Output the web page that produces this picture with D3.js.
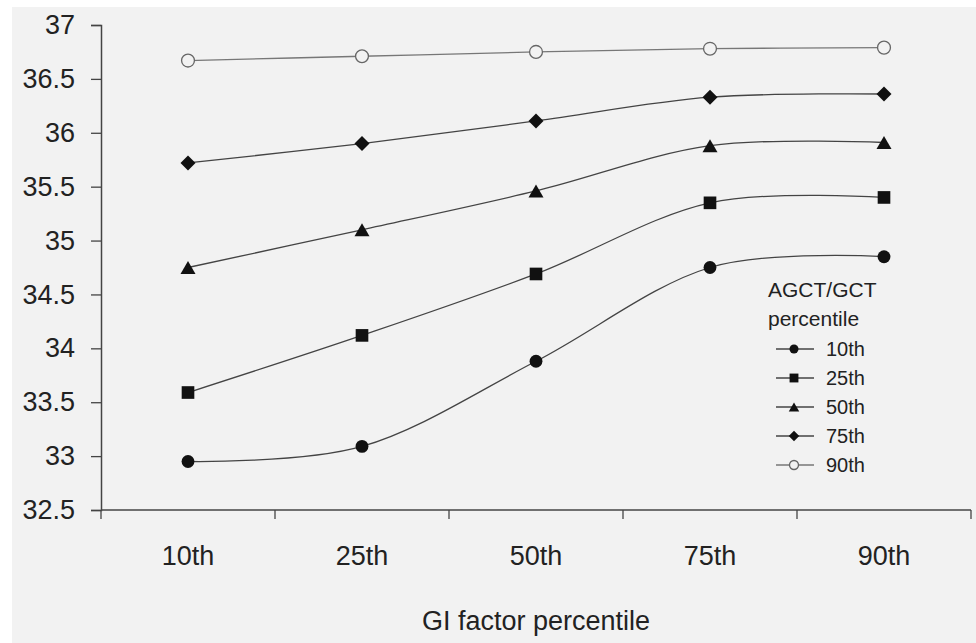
<!DOCTYPE html>
<html>
<head>
<meta charset="utf-8">
<script src="https://cdn.jsdelivr.net/npm/d3@7"></script>
<style>
  body { margin: 0; background: #fff; }
  svg { display: block; font-family: "Liberation Sans", Arial, sans-serif; }
</style>
</head>
<body>
<div id="chart"></div>
<script>
// GI factor percentile categories (x axis)
const categories = ["10th", "25th", "50th", "75th", "90th"];

// AGCT/GCT percentile series
const seriesNames = ["10th", "25th", "50th", "75th", "90th"];
const p10 = [32.95, 33.09, 33.88, 34.75, 34.85];
const p25 = [33.59, 34.12, 34.69, 35.35, 35.40];
const p50 = [34.75, 35.10, 35.46, 35.88, 35.91];
const p75 = [35.72, 35.90, 36.11, 36.33, 36.36];
const p90 = [36.67, 36.71, 36.75, 36.78, 36.79];

const yTicks = [32.5, 33, 33.5, 34, 34.5, 35, 35.5, 36, 36.5, 37];

const width = 976, height = 643;
const plot = { left: 101, right: 971, top: 25, bottom: 510 };

const svg = d3.select("#chart")
    .append("svg")
    .attr("width", width)
    .attr("height", height);

// grey panel
svg.append("rect")
    .attr("x", 12).attr("y", 7)
    .attr("width", width - 12).attr("height", height - 7)
    .attr("fill", "#f2f2f2");

// Scales
const x = d3.scaleBand()
    .domain(categories)
    .range([plot.left, plot.right])
    .padding(0);

const y = d3.scaleLinear()
    .domain([32.5, 37])
    .range([plot.bottom, plot.top]);

// Y axis
const yAxis = svg.append("g")
    .attr("transform", `translate(${plot.left},0)`)
    .call(d3.axisLeft(y).tickValues(yTicks).tickSize(10).tickPadding(16)
        .tickFormat(d => d3.format("")(d)));
yAxis.select(".domain").attr("stroke", "#444").attr("stroke-width", 1.5);
yAxis.selectAll(".tick line").attr("stroke", "#444").attr("stroke-width", 1.3);
yAxis.selectAll(".tick text")
    .attr("font-size", 27)
    .attr("fill", "#222");

// X axis (ticks on band boundaries)
const xAxis = svg.append("g")
    .attr("transform", `translate(0,${plot.bottom})`);
xAxis.append("line")
    .attr("x1", plot.left).attr("x2", plot.right)
    .attr("stroke", "#444").attr("stroke-width", 1.5);
const bounds = categories.map(c => x(c)).concat([x(categories[categories.length - 1]) + x.bandwidth()]);
xAxis.selectAll(".xt")
    .data(bounds)
    .enter()
    .append("line")
    .attr("x1", d => d).attr("x2", d => d)
    .attr("y1", 0).attr("y2", 9)
    .attr("stroke", "#444").attr("stroke-width", 1.3);
xAxis.selectAll(".xl")
    .data(categories)
    .enter()
    .append("text")
    .attr("x", d => x(d) + x.bandwidth() / 2)
    .attr("y", 55)
    .attr("text-anchor", "middle")
    .attr("font-size", 27)
    .attr("fill", "#222")
    .text(d => d);

// X axis title
svg.append("text")
    .attr("x", (plot.left + plot.right) / 2)
    .attr("y", 630)
    .attr("text-anchor", "middle")
    .attr("font-size", 27)
    .attr("fill", "#222")
    .text("GI factor percentile");

// Series
const series = [
    { name: seriesNames[0], values: p10, symbol: "circle" },
    { name: seriesNames[1], values: p25, symbol: "square" },
    { name: seriesNames[2], values: p50, symbol: "triangle" },
    { name: seriesNames[3], values: p75, symbol: "diamond" },
    { name: seriesNames[4], values: p90, symbol: "open" }
];

function symbolPath(type, s) {
    // s = scale factor (1 for plot, smaller for legend)
    if (type === "circle" || type === "open") return d3.symbol(d3.symbolCircle, 130 * s * s)();
    if (type === "square") return d3.symbol(d3.symbolSquare, 160 * s * s)();
    if (type === "triangle") {
        const w = 15 * s, h = 13 * s;
        return `M0,${-h / 2}L${w / 2},${h / 2}L${-w / 2},${h / 2}Z`;
    }
    if (type === "diamond") {
        const r = 7.5 * s;
        return `M0,${-r}L${r},0L0,${r}L${-r},0Z`;
    }
}

function drawMarker(g, type, s) {
    g.append("path")
        .attr("d", symbolPath(type, s))
        .attr("fill", type === "open" ? "#f2f2f2" : "#111")
        .attr("stroke", type === "open" ? "#666" : "none")
        .attr("stroke-width", 1.3);
}

const line = d3.line()
    .x((d, i) => x(categories[i]) + x.bandwidth() / 2)
    .y(d => y(d))
    .curve(d3.curveCardinal.tension(0));

series.forEach(s => {
    svg.append("path")
        .datum(s.values)
        .attr("d", line)
        .attr("fill", "none")
        .attr("stroke", s.symbol === "open" ? "#777" : "#444")
        .attr("stroke-width", 1.3);
    s.values.forEach((v, i) => {
        const g = svg.append("g")
            .attr("transform", `translate(${x(categories[i]) + x.bandwidth() / 2},${y(v)})`);
        drawMarker(g, s.symbol, 1);
    });
});

// Legend
const legend = svg.append("g").attr("transform", "translate(768,0)");
legend.append("text").attr("x", 0).attr("y", 297)
    .attr("font-size", 21).attr("fill", "#222").text("AGCT/GCT");
legend.append("text").attr("x", 0).attr("y", 326)
    .attr("font-size", 21).attr("fill", "#222").text("percentile");
series.forEach((s, i) => {
    const cy = 349 + i * 29;
    const g = legend.append("g").attr("transform", `translate(0,${cy})`);
    g.append("line")
        .attr("x1", 8).attr("x2", 46)
        .attr("stroke", s.symbol === "open" ? "#777" : "#444")
        .attr("stroke-width", 1.3);
    const m = g.append("g").attr("transform", "translate(26,0)");
    drawMarker(m, s.symbol, 0.7);
    g.append("text")
        .attr("x", 58).attr("y", 7)
        .attr("font-size", 20).attr("fill", "#222")
        .text(s.name);
});
</script>
</body>
</html>
